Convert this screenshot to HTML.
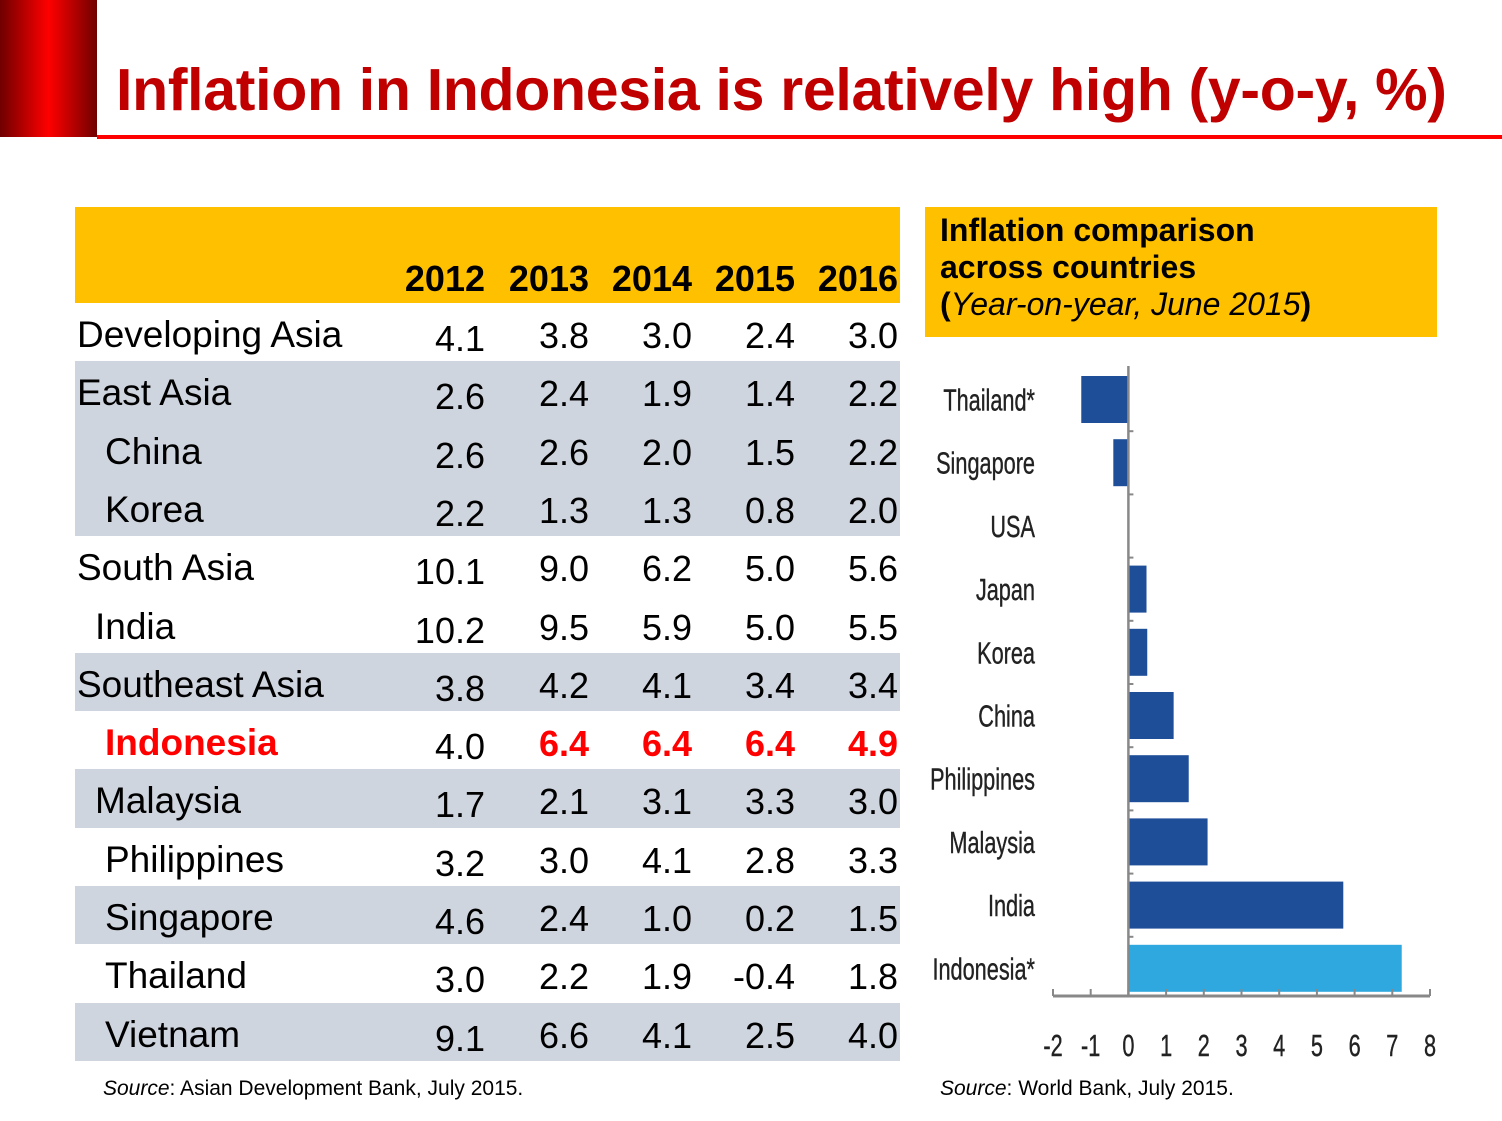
<!DOCTYPE html>
<html><head><meta charset="utf-8">
<style>
body{margin:0;width:1502px;height:1121px;background:#fff;position:relative;overflow:hidden;font-family:"Liberation Sans",sans-serif}
.abs{position:absolute}
#redblock{left:0;top:0;width:97px;height:137px;background:linear-gradient(90deg,#700000 0%,#ff0000 50%,#700000 100%)}
#redline{left:97px;top:135px;width:1405px;height:4px;background:#ff0000}
#title{left:116px;top:56px;font-size:59px;font-weight:bold;color:#c00000;white-space:nowrap;letter-spacing:-0.3px}
#thead{left:75px;top:207px;width:825px;height:96px;background:#ffc000}
.yr{top:258px;font-size:36px;font-weight:bold;color:#000;text-align:right;width:100px}
.row{left:75px;width:825px;height:58.3px}
.lbl{font-size:37px;color:#000;white-space:nowrap}
.val{font-size:36px;text-align:right;width:100px;color:#000}
.src{font-size:21px;color:#000;white-space:nowrap}
#rbox{left:925px;top:207px;width:512px;height:130px;background:#ffc000}
#rtitle{left:940px;top:212px;font-size:32px;font-weight:bold;line-height:37px;color:#000}
</style></head>
<body>
<div class="abs" id="redblock"></div>
<div class="abs" id="redline"></div>
<div class="abs" id="title">Inflation in Indonesia is relatively high (y-o-y, %)</div>

<div class="abs" id="thead"></div>
<div id="table"></div>
<div class="abs src" style="left:103px;top:1077px"><i>Source</i>: Asian Development Bank, July 2015.</div>

<div class="abs" id="rbox"></div>
<div class="abs" id="rtitle">Inflation comparison<br>across countries<br>(<span style="font-weight:normal"><i>Year-on-year, June 2015</i></span>)</div>
<svg class="abs" id="chart" style="left:0;top:0" width="1502" height="1121"></svg>
<div class="abs src" style="left:940px;top:1077px"><i>Source</i>: World Bank, July 2015.</div>

<script>
// ---- table data ----
const rowLabels=["Developing Asia","East Asia","China","Korea","South Asia","India","Southeast Asia","Indonesia","Malaysia","Philippines","Singapore","Thailand","Vietnam"];
const rowIndent=[0,0,28,28,0,18,0,28,18,28,28,28,28];
const rowShade=[0,1,1,1,0,0,1,0,1,0,1,0,1];
const years=["2012","2013","2014","2015","2016"];
const v2012=["4.1","2.6","2.6","2.2","10.1","10.2","3.8","4.0","1.7","3.2","4.6","3.0","9.1"];
const v2013=["3.8","2.4","2.6","1.3","9.0","9.5","4.2","6.4","2.1","3.0","2.4","2.2","6.6"];
const v2014=["3.0","1.9","2.0","1.3","6.2","5.9","4.1","6.4","3.1","4.1","1.0","1.9","4.1"];
const v2015=["2.4","1.4","1.5","0.8","5.0","5.0","3.4","6.4","3.3","2.8","0.2","-0.4","2.5"];
const v2016=["3.0","2.2","2.2","2.0","5.6","5.5","3.4","4.9","3.0","3.3","1.5","1.8","4.0"];
const cols=[v2012,v2013,v2014,v2015,v2016];
const colRight=[485,589,692,795,898];
const body=document.body;
years.forEach((y,j)=>{
  const d=document.createElement('div');d.className='abs yr';
  
  
  d.style.left=(colRight[j]-100)+'px';d.textContent=y;body.appendChild(d);
});
const top0=303,rh=58.3;
rowLabels.forEach((lab,i)=>{
  const y=top0+i*rh;
  const r=document.createElement('div');r.className='abs row';
  
  
  r.style.top=y+'px';r.style.background=rowShade[i]?'#cfd5de':'transparent';
  body.appendChild(r);
  const l=document.createElement('div');l.className='abs lbl';
  
  
  l.style.left=(77+rowIndent[i])+'px';l.style.top=(y+11)+'px';l.textContent=lab;
  if(lab==="Indonesia"){l.style.color='#ff0000';l.style.fontWeight='bold';}
  body.appendChild(l);
  cols.forEach((c,j)=>{
    const v=document.createElement('div');v.className='abs val';
    
    
    v.style.left=(colRight[j]-100)+'px';v.style.top=(y+12+(j===0?3:0))+'px';
    v.textContent=c[i];
    if(lab==="Indonesia"&&j>0){v.style.color='#ff0000';v.style.fontWeight='bold';}
    body.appendChild(v);
  });
});

// ---- chart data ----
const countries=["Thailand*","Singapore","USA","Japan","Korea","China","Philippines","Malaysia","India","Indonesia*"];
const inflation=[-1.25,-0.4,0,0.48,0.5,1.2,1.6,2.1,5.7,7.25];
const xTicks=[-2,-1,0,1,2,3,4,5,6,7,8];
const NS='http://www.w3.org/2000/svg';
const svg=document.getElementById('chart');
const xMin=-2,xMax=8,px0=1053,px1=1430;
const xs=v=>px0+(v-xMin)/(xMax-xMin)*(px1-px0);
const bandTop=368,band=63.2,barH=47;
const ys=i=>bandTop+i*band;
function el(t,a){const e=document.createElementNS(NS,t);for(const k in a)e.setAttribute(k,a[k]);svg.appendChild(e);return e;}
countries.forEach((c,i)=>{
  const v=inflation[i];
  const b=el('rect',{x:Math.min(xs(0),xs(v)),y:ys(i)+8,width:Math.abs(xs(v)-xs(0)),height:barH,fill:i===countries.length-1?'#2ea8df':'#1f4e99'});
  
  
  const t=el('text',{x:0,y:0,'font-size':31,fill:'#222','text-anchor':'end',stroke:'#222','stroke-width':0.4,transform:`translate(1035,${ys(i)+8+barH/2+11}) scale(0.7,1)`});
  t.textContent=c;
  
  
  if(i>0){const tk=el('line',{x1:xs(0),x2:xs(0)+5,y1:ys(i),y2:ys(i),stroke:'#888','stroke-width':2});
  
  }
});
const yAxis=el('line',{x1:xs(0),x2:xs(0),y1:bandTop-2,y2:996,stroke:'#888','stroke-width':2.5});


const xAxis=el('line',{x1:xs(-2),x2:xs(8),y1:996,y2:996,stroke:'#888','stroke-width':3});


xTicks.forEach(t=>{
  const tk=el('line',{x1:xs(t),x2:xs(t),y1:989,y2:996,stroke:'#888','stroke-width':2});
  
  
  const tl=el('text',{x:0,y:0,'font-size':31,fill:'#222','text-anchor':'middle',stroke:'#222','stroke-width':0.4,transform:`translate(${xs(t)},1056) scale(0.7,1)`});
  tl.textContent=t;
  
  
});
</script>
</body></html>
